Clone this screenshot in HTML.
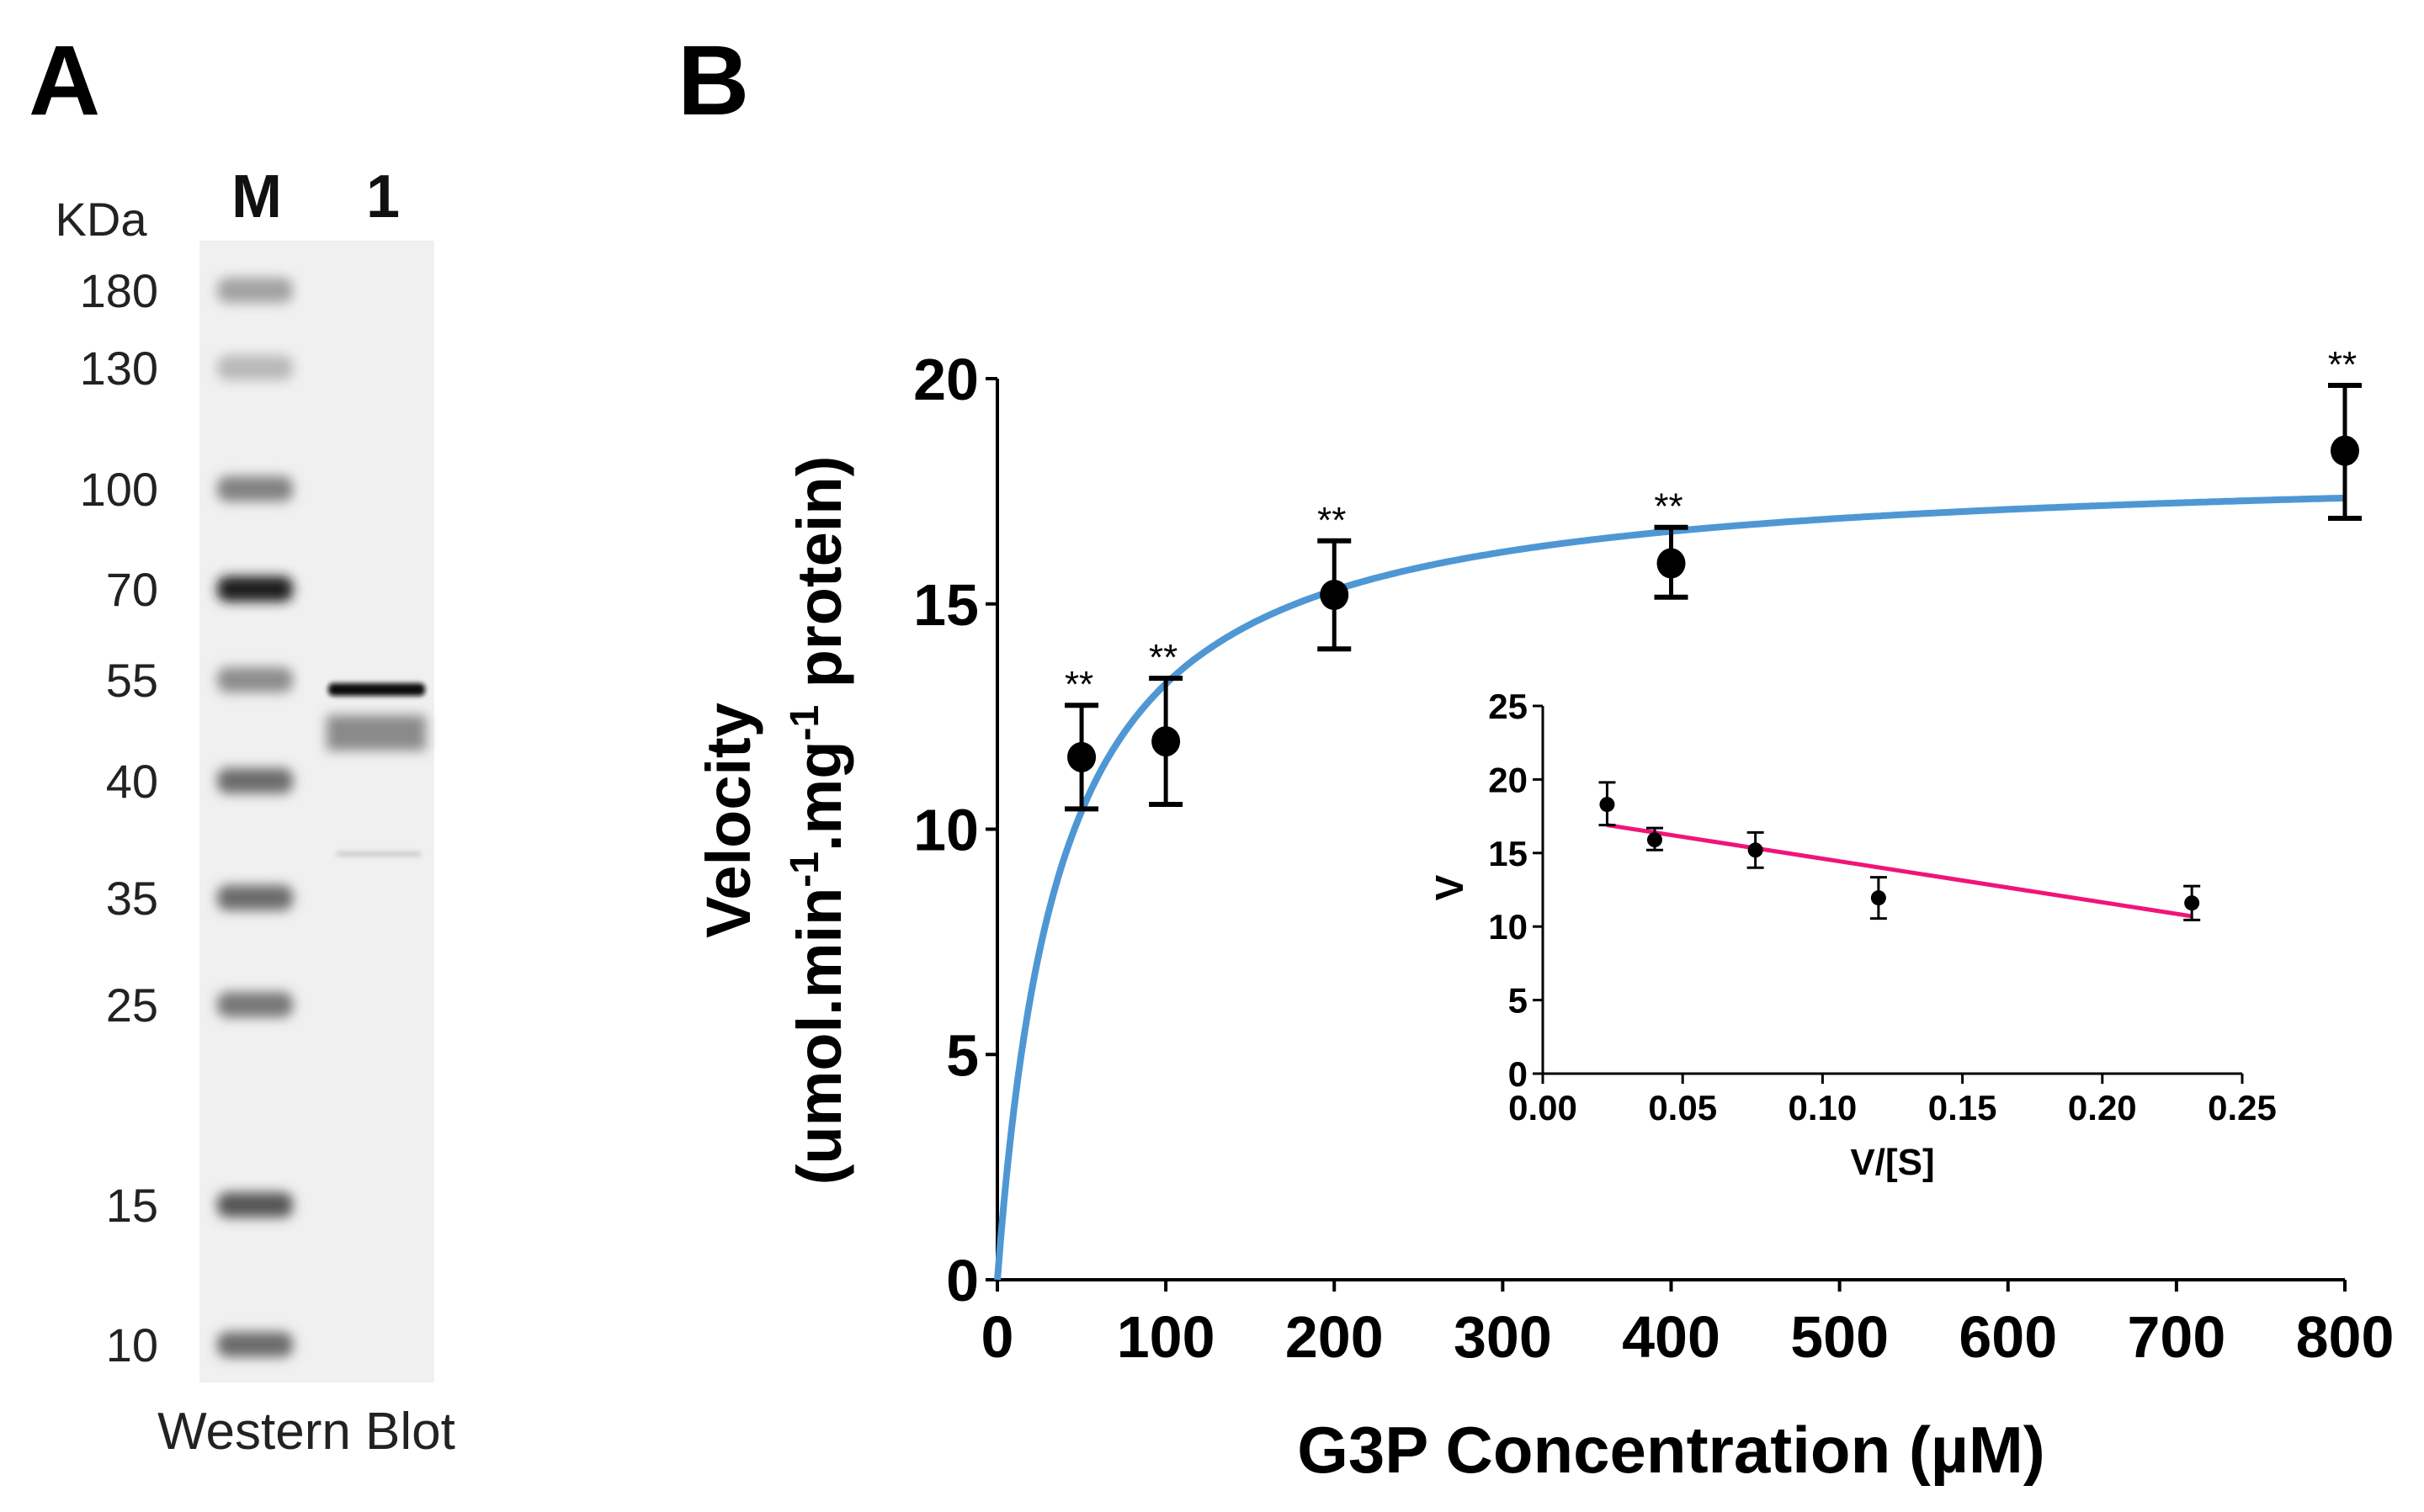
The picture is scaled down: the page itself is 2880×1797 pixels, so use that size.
<!DOCTYPE html>
<html><head><meta charset="utf-8"><style>
html,body{margin:0;padding:0;background:#fff;}
svg{display:block;}
text{font-family:"Liberation Sans",sans-serif;}
</style></head><body>
<svg id="fig" width="2880" height="1797" viewBox="0 0 2880 1797" xmlns="http://www.w3.org/2000/svg">
<defs>
<filter id="blur" x="-30%" y="-100%" width="160%" height="300%"><feGaussianBlur stdDeviation="7"/></filter>
<filter id="blur2" x="-30%" y="-100%" width="160%" height="300%"><feGaussianBlur stdDeviation="3"/></filter>
</defs>
<text x="34" y="136" font-size="118" font-weight="bold">A</text>
<text x="805" y="136" font-size="118" font-weight="bold">B</text>
<g id="gel"></g>
<g id="main"></g>
<g id="inset"></g>
</svg>
<script>
// ---- Gel data ----
const markerLabels = ["180","130","100","70","55","40","35","25","15","10"];
const markerY = [345, 437, 581, 700, 808, 928, 1067, 1194, 1432, 1598];
const markerDark = [0.35, 0.25, 0.5, 0.95, 0.45, 0.6, 0.6, 0.55, 0.7, 0.6];
// ---- Main chart data ----
const conc = [50, 100, 200, 400, 800];
const velocity = [11.6, 11.95, 15.2, 15.9, 18.4];
const errLow = [10.45, 10.55, 14.0, 15.15, 16.9];
const errHigh = [12.75, 13.35, 16.4, 16.7, 19.85];
const xTicks = [0,100,200,300,400,500,600,700,800];
const yTicks = [0,5,10,15,20];
const Vmax = 18.16, Km = 37.3;
// ---- Inset data ----
const insetX = [0.023, 0.040, 0.076, 0.120, 0.232];
const insetY = [18.3, 15.9, 15.2, 11.95, 11.6];
const insetLow = [16.9, 15.2, 14.0, 10.55, 10.45];
const insetHigh = [19.8, 16.7, 16.4, 13.35, 12.75];
const insetXTicks = ["0.00","0.05","0.10","0.15","0.20","0.25"];
const insetYTicks = [0,5,10,15,20,25];
const fitStart = [0.023, 16.9];
const fitEnd = [0.232, 10.7];

const NS="http://www.w3.org/2000/svg";
function mk(tag, attrs, parent, txt){const e=document.createElementNS(NS,tag);for(const k in attrs)e.setAttribute(k,attrs[k]);if(txt!==undefined)e.textContent=txt;parent.appendChild(e);return e;}

// ---- Gel ----
const gel=document.getElementById('gel');
let bg=mk('rect',{x:237,y:286,width:279,height:1357,fill:'#f0f0f0'},gel);


let t=mk('text',{x:120,y:280,'font-size':56,'text-anchor':'middle',fill:'#222'},gel,'KDa');


t=mk('text',{x:305,y:258,'font-size':72,'font-weight':'bold','text-anchor':'middle',fill:'#111'},gel,'M');


t=mk('text',{x:455,y:258,'font-size':72,'font-weight':'bold','text-anchor':'middle',fill:'#111'},gel,'1');


markerLabels.forEach((lab,i)=>{
  const l=mk('text',{x:188,y:markerY[i]+20,'font-size':56,'text-anchor':'end',fill:'#222'},gel,lab);
  
  
  const g=Math.round(240-220*markerDark[i]);
  const b=mk('rect',{x:258,y:markerY[i]-15,width:90,height:30,rx:12,fill:`rgb(${g},${g},${g})`,filter:'url(#blur)'},gel);
  
  
});
let b1=mk('rect',{x:388,y:850,width:118,height:42,fill:'#8a8a8a',filter:'url(#blur)'},gel);


b1=mk('rect',{x:390,y:812,width:115,height:15,rx:6,fill:'#111',filter:'url(#blur2)'},gel);


b1=mk('rect',{x:400,y:1012,width:100,height:6,fill:'#ccc',filter:'url(#blur2)'},gel);


t=mk('text',{x:364,y:1722,'font-size':62,'text-anchor':'middle',fill:'#222'},gel,'Western Blot');



// ---- Main chart ----
const main=document.getElementById('main');
const X0=1185,X1=2786,Y0=1521,Y1=450;
const xs=v=>X0+(X1-X0)*v/800, ys=v=>Y0-(Y0-Y1)*v/20;
let ax=mk('line',{x1:X0,y1:Y0,x2:X1,y2:Y0,stroke:'#000','stroke-width':4},main);


ax=mk('line',{x1:X0,y1:Y0,x2:X0,y2:Y1,stroke:'#000','stroke-width':4},main);


xTicks.forEach(v=>{
  mk('line',{x1:xs(v),y1:Y0,x2:xs(v),y2:Y0+14,stroke:'#000','stroke-width':4},main);
  const l=mk('text',{x:xs(v),y:Y0+92,'font-size':70,'font-weight':'bold','text-anchor':'middle'},main,v);
  
  
});
yTicks.forEach(v=>{
  mk('line',{x1:X0-14,y1:ys(v),x2:X0,y2:ys(v),stroke:'#000','stroke-width':4},main);
  const l=mk('text',{x:X0-22,y:ys(v)+25,'font-size':70,'font-weight':'bold','text-anchor':'end'},main,v);
  
  
});
t=mk('text',{x:(X0+X1)/2,y:1750,'font-size':78,'font-weight':'bold','text-anchor':'middle'},main,'G3P Concentration (µM)');


const yt=mk('text',{'font-size':74,'font-weight':'bold','text-anchor':'middle'},main);


yt.setAttribute('transform','translate(891,975) rotate(-90)');
mk('tspan',{x:0,y:0},yt,'Velocity');
mk('tspan',{x:0,y:108},yt,'(umol.min');
mk('tspan',{dy:-27,'font-size':48},yt,'-1');
mk('tspan',{dy:27},yt,'.mg');
mk('tspan',{dy:-27,'font-size':48},yt,'-1');
mk('tspan',{dy:27},yt,' protein)');
// curve
let d='';
for(let s=0;s<=800;s+=2){const v=Vmax*s/(Km+s);d+=(s?'L':'M')+xs(s).toFixed(1)+','+ys(v).toFixed(1);}
const curve=mk('path',{d:d,fill:'none',stroke:'#4f97d4','stroke-width':8},main);


conc.forEach((c,i)=>{
  const g=mk('g',{},main);
  
  
  const x=xs(c);
  mk('line',{x1:x,y1:ys(errLow[i]),x2:x,y2:ys(errHigh[i]),stroke:'#000','stroke-width':5},g);
  mk('line',{x1:x-20,y1:ys(errLow[i]),x2:x+20,y2:ys(errLow[i]),stroke:'#000','stroke-width':6},g);
  mk('line',{x1:x-20,y1:ys(errHigh[i]),x2:x+20,y2:ys(errHigh[i]),stroke:'#000','stroke-width':6},g);
  mk('ellipse',{cx:x,cy:ys(velocity[i]),rx:17,ry:18,fill:'#000'},g);
  const s=mk('text',{x:x-3,y:ys(errHigh[i])-10,'font-size':44,'text-anchor':'middle'},g,'**');
  
  
});

// ---- Inset ----
const ins=document.getElementById('inset');
const IX0=1833,IX1=2664,IY0=1276,IY1=839;
const ixs=v=>IX0+(IX1-IX0)*v/0.25, iys=v=>IY0-(IY0-IY1)*v/25;
ax=mk('line',{x1:IX0,y1:IY0,x2:IX1,y2:IY0,stroke:'#000','stroke-width':3},ins);


ax=mk('line',{x1:IX0,y1:IY0,x2:IX0,y2:IY1,stroke:'#000','stroke-width':3},ins);


insetXTicks.forEach(lab=>{
  const v=parseFloat(lab);
  mk('line',{x1:ixs(v),y1:IY0,x2:ixs(v),y2:IY0+12,stroke:'#000','stroke-width':3},ins);
  const l=mk('text',{x:ixs(v),y:IY0+55,'font-size':42,'font-weight':'bold','text-anchor':'middle'},ins,lab);
  
  
});
insetYTicks.forEach(v=>{
  mk('line',{x1:IX0-12,y1:iys(v),x2:IX0,y2:iys(v),stroke:'#000','stroke-width':3},ins);
  const l=mk('text',{x:IX0-18,y:iys(v)+15,'font-size':42,'font-weight':'bold','text-anchor':'end'},ins,v);
  
  
});
t=mk('text',{x:(IX0+IX1)/2,y:1396,'font-size':44,'font-weight':'bold','text-anchor':'middle'},ins,'V/[S]');


t=mk('text',{transform:'translate(1738,1055) rotate(-90)','font-size':46,'font-weight':'bold','text-anchor':'middle'},ins,'V');


const fit=mk('line',{x1:ixs(fitStart[0]),y1:iys(fitStart[1]),x2:ixs(fitEnd[0]),y2:iys(fitEnd[1]),stroke:'#f0147a','stroke-width':5},ins);


insetX.forEach((xv,i)=>{
  const g=mk('g',{},ins);
  
  
  const x=ixs(xv);
  mk('line',{x1:x,y1:iys(insetLow[i]),x2:x,y2:iys(insetHigh[i]),stroke:'#000','stroke-width':3},g);
  mk('line',{x1:x-10,y1:iys(insetLow[i]),x2:x+10,y2:iys(insetLow[i]),stroke:'#000','stroke-width':3},g);
  mk('line',{x1:x-10,y1:iys(insetHigh[i]),x2:x+10,y2:iys(insetHigh[i]),stroke:'#000','stroke-width':3},g);
  mk('circle',{cx:x,cy:iys(insetY[i]),r:9,fill:'#000'},g);
});
</script>
</body></html>
